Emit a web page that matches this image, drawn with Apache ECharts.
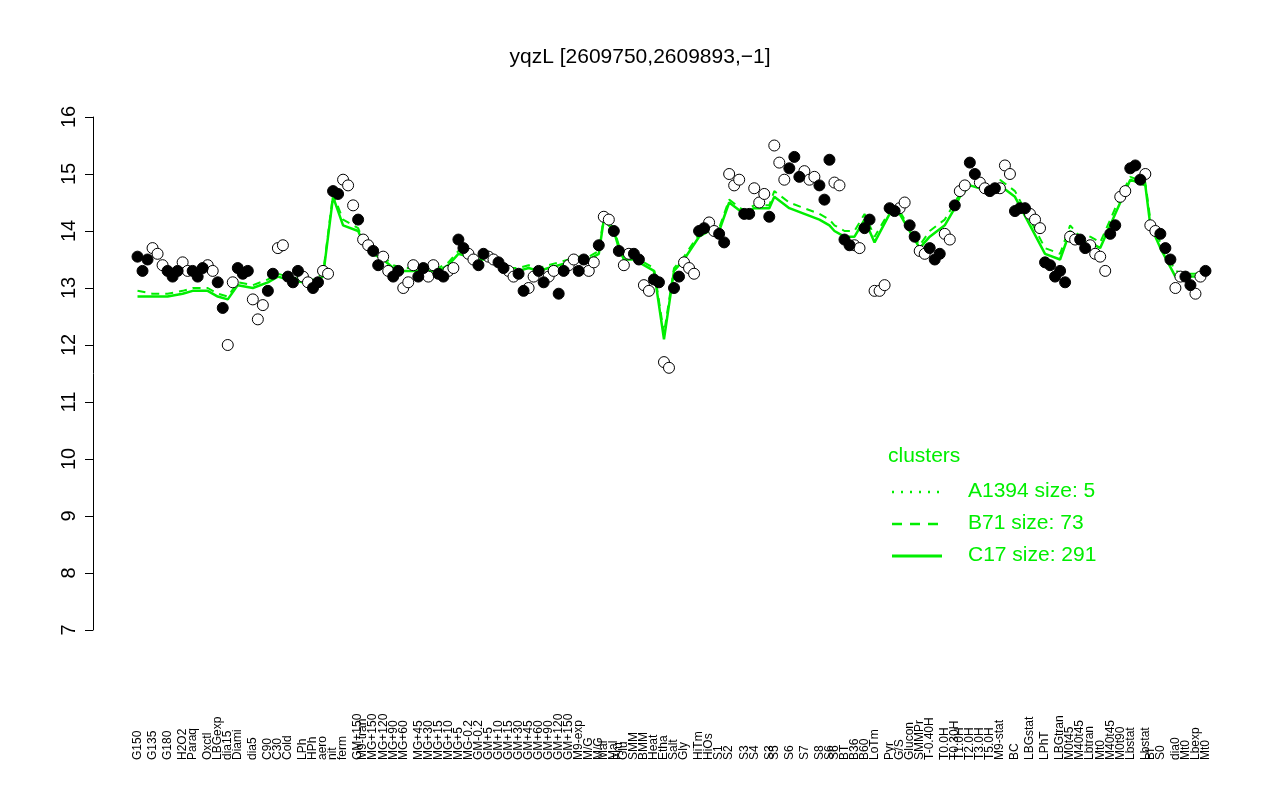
<!DOCTYPE html><html><head><meta charset="utf-8">
<script src="https://cdn.jsdelivr.net/npm/echarts@6/dist/echarts.min.js"></script>
<style>html,body{margin:0;background:#fff}#c{width:1280px;height:800px}</style></head><body><div id="c"></div>
<script>
const groupLabels=["G150","G135","G180","H2O2","Paraq","Oxctl","LBGexp","dia15","Diami","dia5",
"C90","C30","Cold","LPh","HPh","aero","nit","ferm","GM+150","M9-tran",
"MG+150","MG+120","MG+90","MG+60","MG+45","MG+30","MG+15","MG+10","MG+5","MG-0.2",
"GM-0.2","GM+5","GM+10","GM+15","GM+30","GM+45","GM+60","GM+90","GM+120","GM+150",
"M9-exp","M/G","M/G","Mal","Mal","Fru","Glu","SMM","BMM","Heat",
"Etha","Salt","Gly","HiTm","HiOs","S1","S2","S3","S4","S3",
"S5","S6","S7","S8","S6","S6","BT","B36","B60","LoTm",
"Pyr","G/S","Glucon","SMMPr","T-0.40H","T0.0H","T0.30H","T1.0H","T2.0H","T3.0H",
"T5.0H","M9-stat","BC","LBGstat","LPhT","LBGtran","M0t45","M40t45","Lbtran","Mt0",
"M40t45","M0t90","Lbstat","Lbstat","BI","S0","dia0","Mt0","Lbexp","Mt0"];
const groupFilled=[1,0,1,0,1,0,1,0,1,0, 1,0,1,0,1,0,1,0,1,0, 1,0,1,0,1,0,1,0,1,0, 1,0,1,0,1,0,1,0,1,0,
1,0,1,0,1,1,0,1,0,1, 0,1,0,1,0,1,0,1,0,1, 0,1,0,1,1,0,1,0,1,0, 1,0,1,0,1,0,1,0,1,0,
1,0,1,0,1,1,0,1,0,0, 1,0,1,0,0,1,0,1,0,1];
const groupValues=[
[13.55,13.3,13.5],[13.7,13.6,13.4],[13.3,13.2,13.3],[13.45,13.3],[13.3,13.2,13.35],[13.4,13.3],[13.1,12.65],[12.0,13.1],[13.35,13.25,13.3],[12.8,12.45,12.7],
[12.95,13.25],[13.7,13.75],[13.2,13.1,13.3],[13.2,13.1],[13.0,13.1],[13.3,13.25],[14.7,14.65],[14.9,14.8,14.45],[14.2],[13.85,13.75],
[13.65,13.4],[13.55,13.3],[13.2,13.3],[13.0,13.1,13.4],[13.2,13.35],[13.2,13.4],[13.25,13.2],[13.3,13.35],[13.85,13.7],[13.6,13.5],
[13.4,13.6],[13.55,13.5],[13.45,13.35],[13.3,13.2],[13.25,12.95],[13.0,13.2],[13.3,13.1],[13.2,13.3],[12.9,13.3],[13.4,13.5],
[13.3,13.5],[13.3,13.45],[13.75],[14.25,14.2],[14.0],[13.65],[13.4,13.6],[13.6,13.5],[13.05,12.95],[13.15,13.1],
[11.7,11.6],[13.0,13.2],[13.45,13.35,13.25],[14.0,14.05],[14.15,14.0],[13.95,13.8],[15.0,14.8,14.9],[14.3,14.3],[14.75,14.5,14.65],[14.25],
[15.5,15.2,14.9],[15.1,15.3,14.95],[15.05,14.9,14.95],[14.8,14.55],[15.25],[14.85,14.8],[13.85,13.75],[13.75,13.7],[14.05,14.2],[12.95,12.95,13.05],
[14.4,14.35],[14.4,14.5],[14.1,13.9],[13.65,13.6],[13.7,13.5,13.6],[13.95,13.85],[14.45],[14.7,14.8],[15.2,15.0],[14.85,14.75],
[14.7,14.75],[14.75,15.15,15.0],[14.35,14.4,14.4],[14.3,14.2,14.05],[13.45,13.4,13.2],[13.3,13.1],[13.9,13.85],[13.85,13.7],[13.75,13.6],[13.55,13.3],
[13.95,14.1],[14.6,14.7],[15.1,15.15,14.9],[15.0],[14.1,14.0],[13.95,13.7,13.5],[13.0,13.2],[13.2,13.05],[12.9,13.2],[13.3]];
const c17=[12.85,12.85,12.85,12.9,12.95,12.95,12.85,12.8,13.05,13.0,
13.1,13.2,13.15,13.1,13.1,13.2,14.6,14.1,14.0,13.8,
13.6,13.5,13.35,13.3,13.3,13.3,13.3,13.4,13.6,13.55,
13.5,13.5,13.4,13.3,13.3,13.35,13.3,13.35,13.4,13.45,
13.5,13.5,13.6,14.2,14.0,13.7,13.5,13.5,13.4,13.3,
12.1,13.3,13.5,13.9,14.0,14.0,14.5,14.3,14.4,14.4,
14.6,14.4,14.3,14.2,14.1,14.0,13.9,13.9,14.2,13.8,
14.3,14.3,14.0,13.7,13.9,14.1,14.4,14.6,14.8,14.75,
14.7,14.8,14.6,14.1,13.6,13.5,14.0,13.8,13.8,13.7,
14.1,14.5,14.9,14.8,14.1,13.7,13.2,13.2,13.2,13.3];
const b71=[12.95,12.9,12.9,12.95,13.0,13.0,12.9,12.85,13.1,13.05,
13.15,13.25,13.2,13.15,13.15,13.25,14.65,14.2,14.05,13.85,
13.7,13.55,13.4,13.35,13.35,13.35,13.35,13.45,13.65,13.6,
13.55,13.55,13.45,13.35,13.35,13.4,13.35,13.4,13.45,13.5,
13.55,13.55,13.65,14.25,14.05,13.75,13.55,13.55,13.45,13.35,
12.2,13.35,13.55,13.95,14.05,14.05,14.55,14.35,14.45,14.45,
14.7,14.5,14.4,14.3,14.2,14.1,14.0,14.0,14.3,13.9,
14.35,14.35,14.05,13.75,14.0,14.2,14.5,14.65,14.85,14.8,
14.75,14.9,14.7,14.2,13.7,13.6,14.1,13.9,13.9,13.8,
14.2,14.6,14.95,14.85,14.2,13.8,13.3,13.25,13.25,13.35];

const cats=[],filled=[],open=[],lineC=[],lineB=[];
groupValues.forEach((vals,g)=>{
  vals.forEach((v,k)=>{
    const i=cats.length;
    cats.push(k===0?groupLabels[g]:'');
    lineC.push(k===0?c17[g]:null);
    lineB.push(k===0?b71[g]:null);
    (groupFilled[g]?filled:open).push([i,v]);
  });
});
const G='#00ee00';
const chart=echarts.init(document.getElementById('c'));
chart.setOption({
  animation:false,
  title:{text:'yqzL [2609750,2609893,\u22121]',left:'center',top:42,textStyle:{fontFamily:'Liberation Sans, Arial',fontWeight:'normal',fontSize:21,color:'#000'}},
  grid:{left:135,right:72,top:117,bottom:170},
  xAxis:{type:'category',data:cats,boundaryGap:true,axisLine:{show:false},axisTick:{show:false},
    axisLabel:{interval:0,rotate:90,align:'left',fontSize:12,color:'#000',margin:130,fontFamily:'Liberation Sans, Arial'}},
  yAxis:{type:'value',min:7,max:16,interval:1,offset:42,splitLine:{show:false},
    axisLine:{show:true,lineStyle:{color:'#000'}},axisTick:{show:true,length:8,lineStyle:{color:'#000'}},
    axisLabel:{fontSize:20,color:'#000',margin:14,rotate:90,fontFamily:'Liberation Sans, Arial'}},
  series:[
    {type:'line',data:lineB,connectNulls:true,symbol:'none',lineStyle:{color:G,width:2,type:[8,6]},z:1},
    {type:'line',data:lineC,connectNulls:true,symbol:'none',lineStyle:{color:G,width:2.5},z:1},
    {type:'scatter',data:open,symbolSize:11,itemStyle:{color:'#fff',borderColor:'#000',borderWidth:1,opacity:1},z:3},
    {type:'scatter',data:filled,symbolSize:11,itemStyle:{color:'#000',borderColor:'#000',borderWidth:1,opacity:1},z:3}
  ],
  graphic:[
    {type:'text',left:888,top:446,style:{text:'clusters',fill:G,fontSize:21,fontFamily:'Liberation Sans, Arial'}},
    {type:'line',shape:{x1:892,y1:492,x2:942,y2:492},style:{stroke:G,lineWidth:2.5,lineDash:[2,7]}},
    {type:'line',shape:{x1:892,y1:524,x2:942,y2:524},style:{stroke:G,lineWidth:2.5,lineDash:[10,8]}},
    {type:'line',shape:{x1:892,y1:556,x2:942,y2:556},style:{stroke:G,lineWidth:3}},
    {type:'text',left:968,top:481,style:{text:'A1394 size: 5',fill:G,fontSize:21,fontFamily:'Liberation Sans, Arial'}},
    {type:'text',left:968,top:513,style:{text:'B71 size: 73',fill:G,fontSize:21,fontFamily:'Liberation Sans, Arial'}},
    {type:'text',left:968,top:545,style:{text:'C17 size: 291',fill:G,fontSize:21,fontFamily:'Liberation Sans, Arial'}}
  ]
});
</script></body></html>
